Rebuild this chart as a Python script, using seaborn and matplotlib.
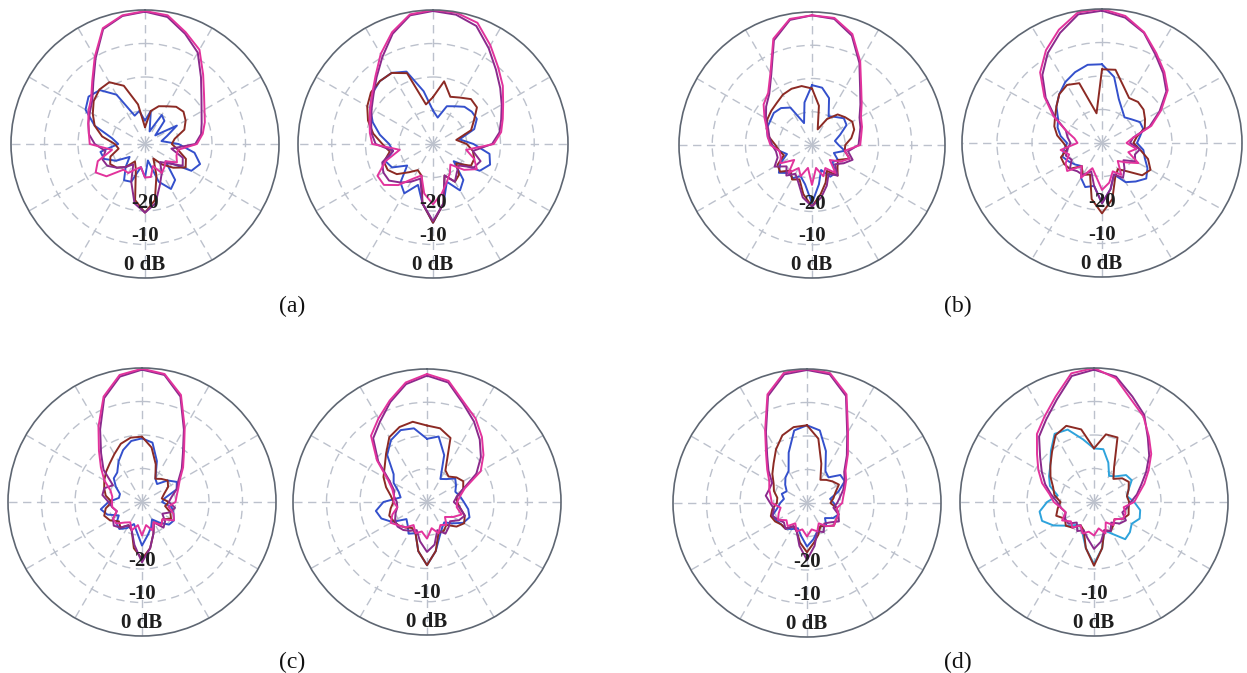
import numpy as np
import matplotlib
matplotlib.use("Agg")
import matplotlib.pyplot as plt
import seaborn as sns

sns.set_theme(style="white")
plt.rcParams['font.family'] = ['Liberation Serif', 'DejaVu Serif']

# ---------------- data (dB, angle 0..350 deg step 10, clockwise from top) ----
angles_deg = list(range(0, 360, 10))

a_left_mag = [-0.3, -1.0, -4.5, -7.5, -13, -17, -19.5, -21, -22.5, -24.5, -30, -30, -29, -32, -31, -30, -33, -30,
              -30, -33, -32, -30, -30, -25, -23, -25, -30, -23.5, -23, -22, -20.5, -19, -15.5, -10, -3.2, -1.0]
a_left_pur = [-0.5, -1.5, -5, -8.5, -14, -18, -20.5, -22, -23, -25, -32, -28, -27, -31, -33, -30, -27, -22,
              -19.5, -22, -28, -33, -31, -29, -27, -26.5, -28, -25, -23, -22, -21, -19.5, -16, -10.5, -3.5, -1.2]
a_left_blu = [-33, -30, -36, -30, -31, -36, -29, -33, -35, -30, -25, -22.5, -24, -32, -26, -24.5, -28, -35,
              -30, -33, -28, -27.5, -31, -34, -30, -27, -26.5, -32, -30, -24, -19.5, -18, -19, -23, -31, -30]
a_left_brn = [-35, -30, -28, -27, -25.5, -25, -26, -27.5, -31, -32, -30, -27, -26, -29, -32, -35, -30, -23,
              -19.5, -23, -32, -34, -31, -29, -28, -29, -32, -31, -27, -24, -22, -20, -18.8, -18.7, -21.5, -28]

a_right_mag = [0, -0.2, -1.5, -6, -10, -13, -16, -18, -19.5, -22, -30, -27, -25, -28, -32, -30, -28, -25,
               -22, -25, -30, -28, -24, -21, -21, -25, -30, -22, -21, -20, -18.5, -16.5, -13.5, -9, -4.5, -0.7]
a_right_pur = [-0.3, -0.8, -2.5, -7, -11, -14, -16.5, -18.5, -20, -22.5, -28, -25, -26, -30, -29, -27, -30, -22,
               -17, -22, -29, -27, -25, -23, -23, -24, -28, -23, -21.5, -20.5, -19, -17, -14, -10, -5, -1]
a_right_blu = [-30, -32, -28, -27, -25.5, -25, -25, -27, -32, -28, -23, -22, -24, -32, -26, -24, -28, -22,
               -16.5, -22, -27, -23, -25, -30, -26, -25, -28, -27, -24, -21, -18.5, -16.5, -15.5, -15.5, -17, -24]
a_right_brn = [-26, -21, -25, -24, -22.5, -23, -26, -28, -33, -30, -28, -27, -27, -31, -28, -27, -30, -22,
               -16.5, -22, -30, -31, -29, -26, -24.5, -24.5, -27, -25, -22, -19.5, -17.5, -16, -15.5, -15.5, -17.5, -28]

b_left_mag = [-1, -1.2, -4.5, -11, -17, -20.5, -23, -24, -25, -25.5, -30, -28, -30, -33, -29, -32, -30, -33,
              -28, -33, -30, -32, -29, -33, -29, -30, -30, -27.5, -26.5, -25.5, -23.5, -21, -19.5, -15, -6, -1.5]
b_left_pur = [-1, -1.5, -5, -11.5, -17.5, -21, -23.5, -24.5, -25.5, -26, -29, -27, -29, -31, -28, -30, -27, -24,
              -21.5, -24, -28, -30, -28, -30, -27, -29, -29, -28, -27, -26, -24, -22, -20, -15.5, -6.5, -1.8]
b_left_blu = [-22, -22.5, -25, -30, -29, -27.5, -28, -31, -33, -32, -30, -33, -31, -32, -29, -29, -32, -28,
              -22.5, -28, -30, -28.5, -29, -27, -29, -32, -30, -28, -26.5, -25.5, -25.5, -25, -25.5, -27, -33, -27]
b_left_brn = [-23, -28, -35, -31, -28, -27, -26, -26.5, -28, -30, -30, -28, -31, -30, -28, -31, -28, -25,
              -21.5, -25, -29, -28, -30, -27.5, -28, -31, -30, -29, -27, -25.5, -24.5, -24, -23.5, -22.5, -22, -22]

b_right_mag = [0, -1.5, -4.8, -9, -12.3, -15.5, -20.5, -25, -31, -33, -30, -32, -28, -31, -33, -29, -31, -28,
               -26, -30, -32, -28, -31, -27, -28, -30, -28, -33, -32, -29, -24, -18.5, -12.5, -8, -4, -0.4]
b_right_pur = [-0.5, -2, -5, -9.5, -12.8, -16, -21, -25.5, -31, -32, -29, -30, -29, -32, -30, -28, -30, -26,
               -22, -27, -31, -29, -29, -28, -30, -29, -30, -31, -30, -29, -24.5, -19, -13.5, -9, -5, -1]
b_right_blu = [-16.5, -20, -26, -28.5, -30, -29, -27.5, -27.5, -29, -30, -28, -27, -25, -23.5, -25, -26.5, -30, -26,
               -22, -27, -26, -28, -31, -30, -29, -28, -29, -30, -28, -26.5, -25.5, -23, -21, -19, -17.5, -16.3]
b_right_brn = [-18, -17.8, -22, -24.5, -24, -24.5, -25.8, -27, -30, -31, -29, -26, -24, -25, -29, -31, -29, -23,
               -19, -23, -30, -29, -31, -28, -27.5, -27.5, -30, -29, -27, -25.5, -24.5, -23, -21, -20, -21, -31]

c_left_mag = [-0.2, -1.2, -6, -14.5, -20.5, -24, -27, -28.5, -29.5, -30, -32, -30, -29, -32, -31, -33, -31, -33,
              -30, -33, -31, -33, -32, -30, -30, -32, -31, -31, -31, -30, -27, -24, -20, -14, -6.5, -1.5]
c_left_pur = [-0.5, -1.5, -6.5, -15, -21, -24.5, -27.5, -29, -31, -32, -30, -31, -33, -31, -30, -33, -30, -26,
              -22, -27, -31, -32, -30, -29, -30, -32, -31, -30, -28, -28, -30, -25, -21, -15, -7, -2]
c_left_blu = [-21, -22, -27, -32, -33, -30, -28, -29, -33, -34, -31, -30, -29, -29.5, -32, -34, -32, -30,
              -27, -31, -33, -31, -29.5, -30, -32, -29, -27.5, -30, -33, -33, -31, -29, -28.5, -26, -23.5, -21.5]
c_left_brn = [-20.5, -23.5, -28, -32, -31, -30, -31, -33, -34, -32, -33, -31, -30, -32, -31, -33, -30, -26,
              -23, -26, -31, -32, -30, -31, -29, -28, -29, -31, -29, -28, -27, -26, -25, -23.5, -21.5, -20.5]

c_right_mag = [-1.5, -3, -8, -11, -14.5, -18, -21.5, -28, -30, -31, -31, -29, -31, -33, -31, -32, -30, -32,
               -29, -31, -30, -32, -30, -29, -27.5, -29, -31, -30, -30, -29, -26.5, -20.5, -14, -11, -7.5, -3.5]
c_right_pur = [-2, -3.5, -8.5, -12, -15.5, -19, -23, -28.5, -31, -32, -30, -28, -29, -31, -30, -29, -31, -27,
               -25, -28, -31, -30, -29, -28.5, -29, -30, -31, -31, -30, -29.5, -27, -21, -15, -12, -8, -4]
c_right_blu = [-21, -20, -25, -32, -31, -29, -30, -31, -30, -29, -27.5, -26.5, -27.5, -30, -32, -31, -29, -25,
               -21, -25, -30, -29, -31, -32, -28, -25.5, -24.5, -27, -32, -31, -28.5, -27, -21.5, -18.5, -17, -17.5]
c_right_brn = [-17, -17.5, -19.5, -29, -30, -28.5, -27.5, -28.5, -31, -31, -30, -28, -27.2, -28.5, -31, -30, -30, -25,
               -21, -25, -30, -31, -30, -29, -28.5, -28, -29, -30, -29, -27, -25, -23.5, -21, -17.5, -16, -15.5]

d_left_mag = [0, -0.6, -5.5, -15.5, -21, -25, -26.5, -28, -29, -29.5, -31, -30, -30, -29.5, -31, -33, -31, -32,
              -30, -32, -31, -33, -31, -32, -30, -31, -32, -29.5, -29, -28, -27, -24.5, -21, -15, -5.5, -0.5]
d_left_pur = [-0.3, -1, -6, -16, -21.5, -25.5, -27, -28.5, -30, -31, -32, -30, -29, -31, -32, -30, -31, -27,
              -23, -27, -31, -32, -30, -31, -30, -29, -30, -29, -27.5, -28, -28, -25, -21.5, -15.5, -6, -1]
d_left_blu = [-16.8, -18, -23.5, -29, -30, -27, -27, -30, -33, -32, -31, -30, -31, -33, -31, -32, -31, -29,
              -27, -30, -32, -31, -30, -30, -29.5, -29, -31, -32, -33, -32, -33, -31.5, -30, -29, -24, -18]
d_left_brn = [-16.8, -20.5, -27.5, -32, -31, -30, -29, -31, -32, -33, -31, -30, -30, -29.5, -31, -32, -30, -28,
              -25.3, -28, -31, -32, -30, -30, -29, -28.5, -29.5, -31, -31, -29.5, -28.5, -26.5, -24.5, -21.5, -18.5, -17]

d_right_mag = [0, -2.5, -7.5, -10.5, -14.5, -17.7, -21.2, -24, -26.5, -28, -31, -30, -30, -32, -31, -33, -30, -32,
               -30, -31, -30, -32, -30, -31, -29, -31, -30, -28, -26.5, -23.5, -20.8, -17.8, -13.5, -10.5, -6.5, -1]
d_right_pur = [-0.5, -2, -6.5, -10, -15, -18.5, -22, -25, -27, -29, -30, -31, -29, -30, -32, -30, -31, -28,
               -26, -29, -31, -30, -32, -30, -30, -31, -30, -29, -27, -24.5, -22, -19, -14.5, -11.5, -7.5, -1.8]
d_right_cya = [-24, -24, -27.5, -31, -30, -27.5, -27, -29, -30, -28, -26, -25.5, -27, -26, -25.5, -29, -31, -26,
               -21.5, -26, -30, -32, -31, -29, -26, -23.5, -23.5, -26, -29, -26, -24.5, -23, -20, -16.5, -17, -21]
d_right_brn = [-24, -19.5, -19.5, -28, -31, -29, -28, -29, -30, -29.5, -29.5, -29, -30, -32, -31, -30, -31, -26,
               -21, -26, -31, -32, -30, -29, -30, -28, -29, -30, -28, -27, -25, -23, -20.5, -17, -15.8, -18]

ring_values = [-30, -20, -10]
ring_labels = {"-20": -22.4, "-10": -12.5, "0 dB": -3.9}
panel_labels = ["(a)", "(b)", "(c)", "(d)"]

# ---------------- styles ----------------
C_MAG = "#e2339c"
C_PUR = "#8a2a8c"
C_BLU = "#3450cc"
C_BRN = "#8c2a24"
C_CYA = "#2ea3dc"

W, H = 1247, 673
fig = plt.figure(figsize=(W / 100, H / 100), dpi=100)
fig.patch.set_facecolor("white")

# (center x, center y, rx, ry) in pixels
panels = [
    ((145, 144, 134, 134), [(a_left_blu, C_BLU), (a_left_brn, C_BRN), (a_left_pur, C_PUR), (a_left_mag, C_MAG)], True),
    ((433, 144, 135, 134), [(a_right_blu, C_BLU), (a_right_brn, C_BRN), (a_right_pur, C_PUR), (a_right_mag, C_MAG)], True),
    ((812, 145, 133, 133), [(b_left_blu, C_BLU), (b_left_brn, C_BRN), (b_left_pur, C_PUR), (b_left_mag, C_MAG)], True),
    ((1102, 143, 140, 134), [(b_right_blu, C_BLU), (b_right_brn, C_BRN), (b_right_pur, C_PUR), (b_right_mag, C_MAG)], True),
    ((142, 502, 134, 134), [(c_left_blu, C_BLU), (c_left_brn, C_BRN), (c_left_pur, C_PUR), (c_left_mag, C_MAG)], True),
    ((427, 502, 134, 133), [(c_right_blu, C_BLU), (c_right_brn, C_BRN), (c_right_pur, C_PUR), (c_right_mag, C_MAG)], False),
    ((807, 503, 134, 134), [(d_left_blu, C_BLU), (d_left_brn, C_BRN), (d_left_pur, C_PUR), (d_left_mag, C_MAG)], True),
    ((1094, 502, 134, 134), [(d_right_cya, C_CYA), (d_right_brn, C_BRN), (d_right_pur, C_PUR), (d_right_mag, C_MAG)], False),
]

theta = np.deg2rad(angles_deg + [360])

for (cx, cy, rx, ry), curves, show20 in panels:
    ax = fig.add_axes([(cx - rx) / W, 1 - (cy + ry) / H, 2 * rx / W, 2 * ry / H], projection="polar")
    ax.set_aspect("auto")
    ax.set_facecolor("none")
    ax.set_theta_zero_location("N")
    ax.set_theta_direction(-1)
    for vals, col in curves:
        r = list(vals) + [vals[0]]
        sns.lineplot(x=theta, y=r, ax=ax, color=col, linewidth=1.4, sort=False,
                     estimator=None, legend=False)
    ax.set_ylim(-40, 0)
    ax.set_yticks(ring_values)
    ax.set_yticklabels([])
    ax.set_xticks(np.deg2rad(np.arange(0, 360, 30)))
    ax.set_xticklabels([])
    ax.set_xlabel("")
    ax.set_ylabel("")
    ax.grid(True, color="#bcc1cc", linewidth=1.0, linestyle=(0, (6, 4)))
    ax.set_axisbelow(True)
    ax.spines["polar"].set_color("#5e6672")
    ax.spines["polar"].set_linewidth(1.2)
    for txt, rv in ring_labels.items():
        if txt == "-20" and not show20:
            continue
        ax.text(np.pi, rv, txt, ha="center", va="center", fontsize=15,
                fontweight="bold", color="#1e1e1e", zorder=5)

label_pos = [(292, 306), (958, 306), (292, 662), (958, 662)]
for txt, (lx, ly) in zip(panel_labels, label_pos):
    fig.text(lx / W, 1 - ly / H, txt, ha="center", va="center", fontsize=17, color="#111111")

fig.savefig("out.png", dpi=100, facecolor="white")
